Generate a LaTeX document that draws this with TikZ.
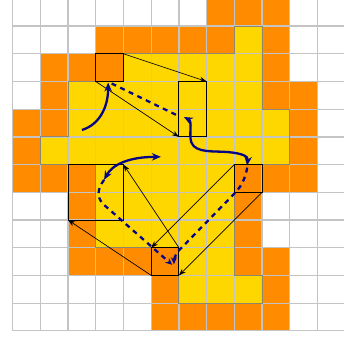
\documentclass[tikz,border=0pt]{standalone}
\usetikzlibrary{arrows.meta}
\definecolor{org}{RGB}{255,140,0}
\definecolor{ylw}{RGB}{255,215,0}
\definecolor{gridc}{RGB}{196,196,196}
\definecolor{edgec}{RGB}{140,135,110}
\definecolor{navyb}{RGB}{5,5,135}
\tikzset{
  gridln/.style={draw=gridc, line width=1.2pt},
  boxst/.style={draw=black, line width=1pt, inner sep=0pt, outer sep=0pt,
    minimum width=27.7pt, minimum height=27.7pt, anchor=north west},
  tallbox/.style={boxst, minimum height=55.4pt},
  bigbox/.style={boxst, minimum width=55.4pt, minimum height=55.4pt},
  blk/.style={draw=black, line width=0.7pt, -{Stealth[length=7pt,width=5pt]}},
  bluecurve/.style={draw=navyb, line width=2.3pt},
  bluetip/.style={{Stealth[length=9pt,width=7.5pt]}},
  bluedash/.style={draw=navyb, line width=2.3pt, dash pattern=on 5pt off 4.5pt}
}
\begin{document}
\begin{tikzpicture}[x=27.7pt,y=-27.7pt]
\useasboundingbox (-0.458,0.058) rectangle (11.96,12.26);
\clip (-0.458,0.058) rectangle (11.96,12.26);
% orange cells
\foreach \c/\r in {7/0,8/0,9/0,
  3/1,4/1,5/1,6/1,7/1,9/1,
  1/2,2/2,3/2,9/2,
  1/3,9/3,10/3,
  0/4,1/4,10/4,
  0/5,10/5,
  0/6,1/6,2/6,8/6,9/6,10/6,
  2/7,8/7,
  2/8,8/8,
  2/9,3/9,4/9,5/9,8/9,9/9,
  5/10,9/10,
  5/11,6/11,7/11,8/11,9/11}
  { \fill[org] (\c,\r) rectangle ++(1,1); }
% yellow region
\fill[ylw] (8,1)--(9,1)--(9,4)--(10,4)--(10,6)--(8,6)--(8,10)--(9,10)--(9,11)--(6,11)--(6,9)--(3,9)--(3,6)--(1,6)--(1,5)--(2,5)--(2,3)--(4,3)--(4,2)--(8,2)--cycle;
% grid
\foreach \i in {0,...,12} {
  \draw[gridln] (\i,0) -- (\i,12);
  \draw[gridln] (0,\i) -- (12,\i);
}
% yellow outline
\draw[edgec, line width=1pt] (8,1)--(9,1)--(9,4)--(10,4)--(10,6)--(8,6)--(8,10)--(9,10)--(9,11)--(6,11)--(6,9)--(3,9)--(3,6)--(1,6)--(1,5)--(2,5)--(2,3)--(4,3)--(4,2)--(8,2)--cycle;
% boxes
\node[boxst] (A) at (3,2) {};
\node[tallbox] (B) at (6,3) {};
\node[bigbox] (C) at (2,6) {};
\node[boxst] (D) at (8,6) {};
\node[boxst] (E) at (5,9) {};
% black arrows
\draw[blk] (A.north east) -- (B.north east);
\draw[blk] (A.south west) -- (B.south west);
\draw[blk] (D.north west) -- (E.north west);
\draw[blk] (D.south east) -- (E.south east);
\draw[blk] (E.north east) -- (C.north east);
\draw[blk] (E.south west) -- (C.south west);
% blue free-end coordinates
\coordinate (s1) at (2.50,4.75);
\coordinate (bt) at (6.18,4.28);
\coordinate (ct) at (3.30,6.55);
\coordinate (cr) at (5.35,5.72);
\coordinate (et1) at (5.76,9.62);
\coordinate (et2) at (5.82,9.60);
% blue solid curves
\draw[bluecurve, -{Stealth[length=9pt,width=7.5pt]}] (s1) .. controls (3.15,4.55) and (3.45,3.9) .. ([xshift=-1.5pt,yshift=-1pt]A.south);
\draw[bluecurve, {Stealth[length=9pt,width=7.5pt]}-{Stealth[length=9pt,width=7.5pt]}] (bt) .. controls (6.5,4.45) and (6.35,4.9) .. (6.45,5.2) .. controls (6.6,5.6) and (7.3,5.5) .. (7.8,5.55) .. controls (8.3,5.6) and (8.5,5.7) .. ([xshift=-1pt,yshift=-1pt]D.north);
\draw[bluecurve, {Stealth[length=9pt,width=7.5pt]}-{Stealth[length=9pt,width=7.5pt]}] (ct) .. controls (3.6,6.0) and (4.2,5.72) .. (cr);
% blue dashed
\draw[bluedash] ([xshift=2pt,yshift=-2pt]A.south) -- ([yshift=-7pt]B.west);
\draw[bluedash, -{Stealth[length=7pt,width=6pt]}] (ct) .. controls (3.0,6.95) and (3.05,7.25) .. (3.35,7.5) -- (et1);
\draw[bluedash, -{Stealth[length=7pt,width=6pt]}] ([xshift=-1pt,yshift=-3pt]D.north) .. controls (8.4,6.5) and (8.25,6.8) .. (8.0,7.05) -- (5.95,9.15) .. controls (5.85,9.3) and (5.82,9.45) .. (et2);
\end{tikzpicture}
\end{document}
